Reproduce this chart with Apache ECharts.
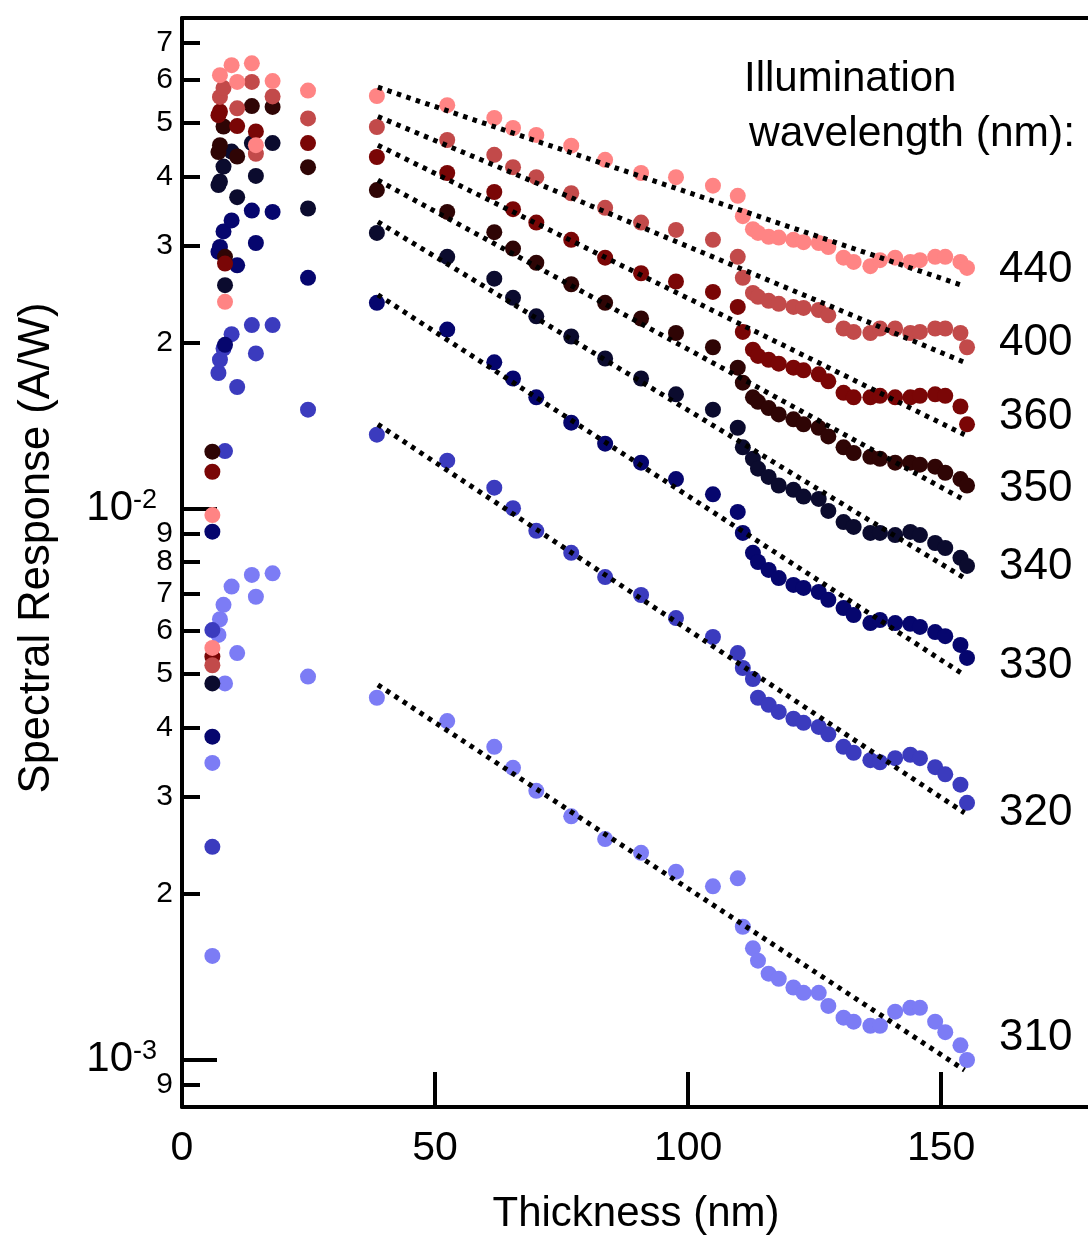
<!DOCTYPE html>
<html><head><meta charset="utf-8">
<script src="https://cdn.jsdelivr.net/npm/echarts@6/dist/echarts.min.js"></script>
<style>html,body{margin:0;padding:0;background:#fff}#c{width:1088px;height:1235px}</style>
</head><body><div id="c"></div>
<script>
// ---------- DATA ----------
const wavelengths = ['440', '400', '360', '350', '340', '330', '320', '310'];

// thicknesses (nm) of the main sample set
const thickMain = [38.5, 52.4, 61.7, 65.4, 70.0, 76.9, 83.6, 90.7, 97.6, 104.9, 109.8, 110.8, 112.8, 113.8, 115.9, 117.9, 120.8, 122.8, 125.8, 127.7, 130.7, 132.7, 136.0, 137.9, 140.9, 143.9, 145.8, 148.8, 150.8, 153.8, 155.1];
// thicknesses (nm) of the thin-film points
const thickThin = [6, 6, 7.2, 7.5, 8.2, 8.5, 9.8, 10.9, 13.8, 14.6, 17.9, 24.9];

// spectral response (A/W)
const resp440 = [0.0560, 0.0539, 0.0511, 0.0490, 0.0476, 0.0455, 0.0429, 0.0406, 0.0399, 0.0385, 0.0369, 0.0339, 0.0321, 0.0316, 0.0311, 0.0310, 0.0307, 0.0304, 0.0303, 0.0298, 0.0285, 0.0280, 0.0275, 0.0282, 0.0285, 0.0280, 0.0282, 0.0286, 0.0286, 0.0280, 0.0273];
const resp400 = [0.0492, 0.0466, 0.0438, 0.0416, 0.0399, 0.0373, 0.0351, 0.0330, 0.0320, 0.0307, 0.0286, 0.0262, 0.0246, 0.0242, 0.0238, 0.0235, 0.0232, 0.0231, 0.0229, 0.0224, 0.0212, 0.0209, 0.0208, 0.0212, 0.0212, 0.0208, 0.0209, 0.0212, 0.0212, 0.0208, 0.0196];
const resp360 = [0.0434, 0.0406, 0.0375, 0.0349, 0.0330, 0.0307, 0.0285, 0.0267, 0.0258, 0.0247, 0.0232, 0.0209, 0.0194, 0.0189, 0.0186, 0.0183, 0.0180, 0.0178, 0.0175, 0.0170, 0.0162, 0.0159, 0.0159, 0.0160, 0.0159, 0.0159, 0.0160, 0.0161, 0.0160, 0.0153, 0.0142];
const resp350 = [0.0378, 0.0345, 0.0317, 0.0296, 0.0279, 0.0255, 0.0236, 0.0221, 0.0208, 0.0196, 0.0180, 0.0169, 0.0159, 0.0156, 0.0152, 0.0148, 0.0145, 0.0142, 0.0140, 0.0135, 0.0129, 0.0126, 0.0124, 0.0123, 0.0121, 0.0121, 0.0120, 0.0119, 0.0116, 0.0113, 0.0110];
const resp340 = [0.0316, 0.0286, 0.0261, 0.0241, 0.0223, 0.0205, 0.0187, 0.0172, 0.0161, 0.0151, 0.0140, 0.0129, 0.0123, 0.0118, 0.0114, 0.0110, 0.0108, 0.0105, 0.0104, 0.00989, 0.00944, 0.00925, 0.00902, 0.00902, 0.00894, 0.00906, 0.00894, 0.00865, 0.00847, 0.00813, 0.00786];
const resp330 = [0.0236, 0.0211, 0.0184, 0.0172, 0.0159, 0.0143, 0.0131, 0.0121, 0.0113, 0.0106, 0.00985, 0.00902, 0.00830, 0.00799, 0.00773, 0.00747, 0.00726, 0.00717, 0.00705, 0.00682, 0.00659, 0.00640, 0.00619, 0.00627, 0.00619, 0.00617, 0.00609, 0.00596, 0.00586, 0.00565, 0.00535];
const resp320 = [0.0136, 0.0122, 0.0109, 0.0100, 0.00910, 0.00830, 0.00750, 0.00696, 0.00632, 0.00584, 0.00546, 0.00513, 0.00490, 0.00453, 0.00440, 0.00427, 0.00415, 0.00408, 0.00401, 0.00389, 0.00369, 0.00360, 0.00349, 0.00346, 0.00352, 0.00357, 0.00352, 0.00339, 0.00329, 0.00315, 0.00292];
const resp310 = [0.00453, 0.00411, 0.00369, 0.00338, 0.00307, 0.00276, 0.00251, 0.00237, 0.00219, 0.00206, 0.00213, 0.00174, 0.00159, 0.00151, 0.00143, 0.00140, 0.00135, 0.00132, 0.00132, 0.00125, 0.00119, 0.00117, 0.00115, 0.00115, 0.00122, 0.00124, 0.00124, 0.00117, 0.00112, 0.00106, 0.000997];

const thin440 = [0.00972, 0.00558, null, 0.0611, null, 0.0237, 0.0637, 0.0594, 0.0642, 0.0456, 0.0596, 0.0573];
const thin400 = [0.00519, null, null, 0.0558, 0.0579, null, null, 0.0532, 0.0594, 0.0440, 0.0559, 0.0510];
const thin360 = [0.01165, 0.00538, 0.0517, 0.0525, null, 0.0278, null, 0.0494, null, 0.0483, null, 0.0460];
const thin350 = [0.01267, null, 0.0443, 0.0456, 0.0493, 0.0286, null, 0.0435, 0.0537, null, 0.0535, 0.0416];
const thin340 = [0.00481, null, 0.0386, 0.0392, 0.0417, 0.0254, 0.0444, 0.0367, 0.0460, 0.0401, 0.0460, 0.0350];
const thin330 = [0.00907, 0.00385, 0.0292, 0.0298, 0.0318, 0.0198, 0.0333, 0.0276, 0.0347, 0.0303, 0.0345, 0.0262];
const thin320 = [0.00601, 0.00243, 0.0176, 0.0186, 0.0195, 0.0127, 0.0207, 0.0166, 0.0215, 0.0191, 0.0215, 0.0151];
const thin310 = [0.00345, 0.00154, 0.00589, 0.00629, 0.00668, 0.00481, 0.00721, 0.00546, 0.00757, 0.00691, 0.00762, 0.00495];

// exponential fits: value at start and end thickness
const fitThick = [38.7, 154.6];
const fitStart = [0.0581, 0.0514, 0.0456, 0.0394, 0.0331, 0.0244, 0.0142, 0.00478];
const fitEnd = [0.0253, 0.0184, 0.0136, 0.01035, 0.00747, 0.00498, 0.00280, 0.000956];

// axis ticks
const xTicks = [0, 50, 100, 150];
const yMajorTicks = [0.001, 0.01];
const yMinorTicks = [0.0009, 0.002, 0.003, 0.004, 0.005, 0.006, 0.007, 0.008, 0.009, 0.02, 0.03, 0.04, 0.05, 0.06, 0.07];

// ---------- STYLE / LAYOUT ----------
const colors = ['#FF8484', '#C24A4A', '#7A0606', '#2F0505', '#0B0B2E', '#06066E', '#3B3BBE', '#7C7CF5'];
const FONT = '"Liberation Sans", Arial, Helvetica, sans-serif';
const labelPixelY = [270, 343, 417, 489, 567, 666, 813, 1038];
const yMin = -3.0866, yMax = -1.1102;

const respMain = [resp440, resp400, resp360, resp350, resp340, resp330, resp320, resp310];
const respThin = [thin440, thin400, thin360, thin350, thin340, thin330, thin320, thin310];
const lg = Math.log10;

const series = [];
// draw from 310 up to 440 so lighter reds sit on top
for (let i = wavelengths.length - 1; i >= 0; i--) {
  const pts = [];
  thickThin.forEach((t, k) => { if (respThin[i][k] != null) pts.push([t, lg(respThin[i][k])]); });
  thickMain.forEach((t, k) => { if (respMain[i][k] != null) pts.push([t, lg(respMain[i][k])]); });
  series.push({
    type: 'scatter', name: wavelengths[i] + ' nm', data: pts,
    symbol: 'circle', symbolSize: 16,
    itemStyle: { color: colors[i], opacity: 1 },
    z: 2
  });
}
for (let i = 0; i < wavelengths.length; i++) {
  series.push({
    type: 'line', name: 'fit ' + wavelengths[i],
    data: [[fitThick[0], lg(fitStart[i])], [fitThick[1], lg(fitEnd[i])]],
    showSymbol: false, symbol: 'none',
    lineStyle: { color: '#000', width: 5, type: [4.5, 5.5], cap: 'butt' },
    z: 5, silent: true
  });
}

function txt(text, x, y, size, align, rot) {
  return { type: 'text', x: x, y: y, rotation: rot || 0,
    style: { text: text, font: size + 'px ' + FONT, fill: '#000', align: align, verticalAlign: 'middle', textAlign: align, textVerticalAlign: 'middle' } };
}
const graphic = [
  txt('Illumination', 744, 79, 42, 'left'),
  txt('wavelength (nm):', 749, 134, 42.5, 'left'),
  txt('Thickness (nm)', 636, 1214, 42, 'center'),
  txt('Spectral Response (A/W)', 37, 548, 43.5, 'center', Math.PI / 2)
];
wavelengths.forEach((w, i) => graphic.push(txt(w, 999, labelPixelY[i], 44, 'left')));

const chart = echarts.init(document.getElementById('c'), null, { renderer: 'canvas' });
chart.setOption({
  animation: false,
  backgroundColor: '#fff',
  grid: { left: 182, right: 0, top: 18, bottom: 128, containLabel: false },
  xAxis: [
    {
      type: 'value', position: 'bottom', min: 0, max: 179, interval: 50,
      axisLine: { show: true, onZero: false, lineStyle: { color: '#000', width: 4 } },
      axisTick: { show: true, inside: true, length: 35, lineStyle: { color: '#000', width: 4 }, customValues: xTicks },
      axisLabel: { color: '#000', fontSize: 41, fontFamily: FONT, margin: 21, customValues: xTicks },
      splitLine: { show: false }
    },
    {
      type: 'value', position: 'top', min: 0, max: 179,
      axisLine: { show: true, onZero: false, lineStyle: { color: '#000', width: 4 } },
      axisTick: { show: false }, axisLabel: { show: false }, splitLine: { show: false }
    }
  ],
  yAxis: [
    {
      type: 'value', position: 'left', min: yMin, max: yMax,
      axisLine: { show: true, onZero: false, lineStyle: { color: '#000', width: 4 } },
      axisTick: { show: true, inside: true, length: 35, lineStyle: { color: '#000', width: 4 }, customValues: yMajorTicks.map(lg) },
      axisLabel: {
        margin: 25, color: '#000', customValues: yMajorTicks.map(lg),
        formatter: v => '{b|10}{s|' + Math.round(v) + '}',
        rich: {
          b: { fontSize: 42, fontFamily: FONT, color: '#000', verticalAlign: 'bottom' },
          s: { fontSize: 27, fontFamily: FONT, color: '#000', verticalAlign: 'top', lineHeight: 27, padding: [0, 0, 24, 0] }
        }
      },
      splitLine: { show: false }
    },
    {
      type: 'value', position: 'left', min: yMin, max: yMax,
      axisLine: { show: false, onZero: false },
      axisTick: { show: true, inside: true, length: 18, lineStyle: { color: '#000', width: 4 }, customValues: yMinorTicks.map(lg) },
      axisLabel: {
        margin: 9, color: '#000', fontSize: 30, fontFamily: FONT, customValues: yMinorTicks.map(lg),
        formatter: v => '{m|' + Math.round(Math.pow(10, v) / Math.pow(10, Math.floor(v + 1e-9))) + '}',
        rich: { m: { fontSize: 30, fontFamily: FONT, color: '#000', lineHeight: 30 } }
      },
      splitLine: { show: false }
    }
  ],
  series: series,
  graphic: graphic
});
</script>
</body></html>
